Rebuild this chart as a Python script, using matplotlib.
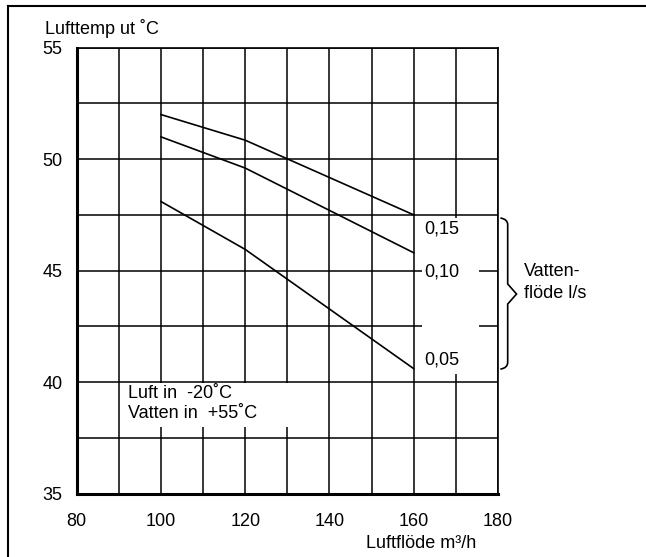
import matplotlib
matplotlib.use("Agg")
import matplotlib.pyplot as plt
from matplotlib.patches import Rectangle
from matplotlib.lines import Line2D
from matplotlib.path import Path
from matplotlib.patches import PathPatch
import numpy as np

plt.rcParams['font.family'] = ['Liberation Sans', 'DejaVu Sans']

# Data
airflow = [100, 120, 160]
temp_015 = [52.0, 50.85, 47.5]
temp_010 = [51.0, 49.6, 45.8]
temp_005 = [48.1, 45.95, 40.6]
series_labels = ["0,15", "0,10", "0,05"]
xticks = [80, 100, 120, 140, 160, 180]
yticks = [35, 40, 45, 50, 55]

FS = 13
W, H = 646, 557
fig = plt.figure(figsize=(W / 100, H / 100), dpi=100)
ax = fig.add_axes([76.7 / W, 1 - 493.5 / H, (498 - 76.7) / W, (493.5 - 47.7) / H])

ax.set_xlim(80, 180)
ax.set_ylim(35, 55)
ax.set_xticks(xticks)
ax.set_xticks(np.arange(90, 180, 20), minor=True)
ax.set_yticks(yticks)
ax.set_yticks(np.arange(37.5, 55, 5), minor=True)
ax.set_xticklabels([str(v) for v in xticks])
ax.set_yticklabels([str(v) for v in yticks])
ax.tick_params(which='both', length=0)
ax.tick_params(axis='y', pad=10, labelsize=FS)
ax.tick_params(axis='x', pad=14, labelsize=FS)
ax.grid(which='both', color='black', linewidth=1.1)
ax.set_axisbelow(True)

for s in ['left', 'bottom']:
    ax.spines[s].set_linewidth(2.2)
for s in ['top', 'right']:
    ax.spines[s].set_linewidth(1.2)

# white boxes that interrupt the grid
ax.add_patch(Rectangle((161.9, 40.36), 175.5 - 161.9, 47.37 - 40.36,
                       facecolor='white', edgecolor='none', zorder=1))
ax.add_patch(Rectangle((91.0, 38.0), 138.0 - 91.0, 39.96 - 38.0,
                       facecolor='white', edgecolor='none', zorder=1))

for ys in (temp_015, temp_010, temp_005):
    ax.plot(airflow, ys, color='black', linewidth=1.2, zorder=3)

# series labels
ax.text(162.4, 46.87, series_labels[0], fontsize=FS, va='center', ha='left', zorder=4)
ax.text(162.4, 44.94, series_labels[1], fontsize=FS, va='center', ha='left', zorder=4)
ax.text(162.4, 41.0, series_labels[2], fontsize=FS, va='center', ha='left', zorder=4)

# condition text
ax.text(92.1, 39.5, "Luft in  -20˚C", fontsize=FS, va='center', ha='left', zorder=4)
ax.text(92.1, 38.6, "Vatten in  +55˚C", fontsize=FS, va='center', ha='left', zorder=4)

# brace (x in axes fraction, y in data)
trans = ax.get_yaxis_transform()
x0, x1, x2 = 1.0056, 1.023, 1.044
yt, ym, yb = 47.36, 43.95, 40.58
verts = [
    (x0, yt), (x1, yt - 0.05), (x1, yt - 0.3),
    (x1, ym + 0.45),
    (x2, ym),
    (x1, ym - 0.45),
    (x1, yb + 0.3), (x1, yb + 0.05), (x0, yb),
]
codes = [Path.MOVETO, Path.CURVE3, Path.CURVE3,
         Path.LINETO, Path.LINETO, Path.LINETO,
         Path.LINETO, Path.CURVE3, Path.CURVE3]
brace = PathPatch(Path(verts, codes), transform=trans, facecolor='none',
                  edgecolor='black', linewidth=1.2, clip_on=False)
ax.add_patch(brace)

fig.text(524 / W, 1 - 272 / H, "Vatten-", fontsize=FS, va='center', ha='left')
fig.text(524 / W, 1 - 294 / H, "flöde l/s", fontsize=FS, va='center', ha='left')

# axis titles
fig.text(45 / W, 1 - 34 / H, "Lufttemp ut ˚C", fontsize=FS, va='baseline', ha='left')
fig.text(366 / W, 1 - 543 / H, "Luftflöde m³/h", fontsize=FS, va='center', ha='left')

# outer frame (top and left edges)
fig.add_artist(Line2D([8 / W, 1.0], [1 - 6 / H, 1 - 6 / H], color='black', linewidth=1.5,
                      transform=fig.transFigure))
fig.add_artist(Line2D([8 / W, 8 / W], [1 - 6 / H, 0.0], color='black', linewidth=1.5,
                      transform=fig.transFigure))

fig.savefig("out.png", dpi=100)
